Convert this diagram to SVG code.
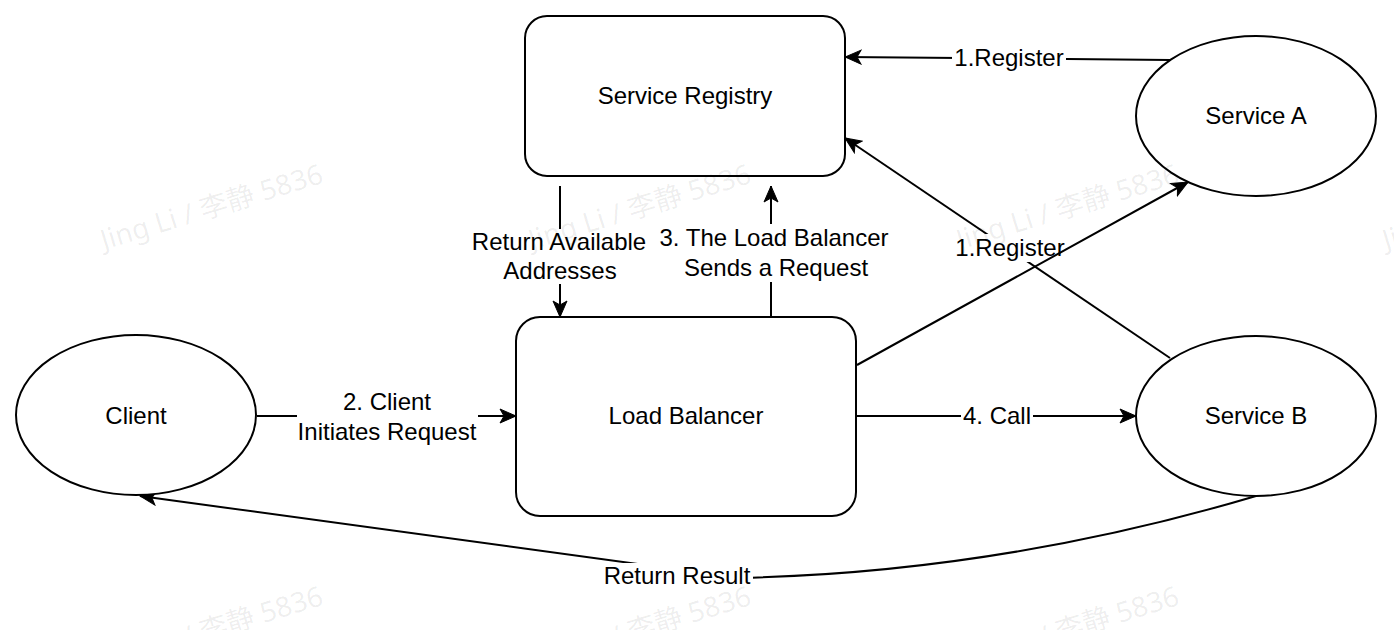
<svg xmlns="http://www.w3.org/2000/svg" width="1394" height="630" viewBox="0 0 1394 630">
<style>
.node{fill:#fff;stroke:#000;stroke-width:2}
.edge{fill:none;stroke:#000;stroke-width:2}
.t{font-family:"Liberation Sans",Arial,sans-serif;font-size:24px;fill:#000;text-anchor:middle}
.bg{fill:#fff}
.wm{font-family:"Noto Sans","Noto Sans CJK SC",sans-serif;font-size:28px;fill:#000;fill-opacity:0.07}
</style>
<defs>
<marker id="arr" markerUnits="userSpaceOnUse" markerWidth="18" markerHeight="16" viewBox="0 0 18 16" refX="17" refY="8" orient="auto">
<path d="M1,1 L17,8 L1,15 L5,8 z" fill="#000" stroke="#000" stroke-width="1"/>
</marker>
</defs>
<rect width="1394" height="630" fill="#fff"/>
<g id="connectors">
<g id="e-a-reg"><path class="edge" d="M1170,60 L845,57" marker-end="url(#arr)"/><rect class="bg" x="952" y="44" width="114" height="28"/><text class="t" x="1009" y="66">1.Register</text></g>
<g id="e-b-reg"><path class="edge" d="M1170,358 L845,138" marker-end="url(#arr)"/><rect class="bg" x="953" y="234" width="114" height="28"/><text class="t" x="1010" y="256">1.Register</text></g>
<g id="e-lb-a"><path class="edge" d="M857,365 L1188,182" marker-end="url(#arr)"/></g>
<g id="e-lb-b"><path class="edge" d="M857,416 L1136,416" marker-end="url(#arr)"/><rect class="bg" x="961" y="402" width="72" height="28"/><text class="t" x="997" y="424">4. Call</text></g>
<g id="e-client-lb"><path class="edge" d="M257,416 L516,416" marker-end="url(#arr)"/><rect class="bg" x="297" y="388" width="181" height="58"/><text class="t" x="387" y="410">2. Client</text><text class="t" x="387" y="440">Initiates Request</text></g>
<g id="e-reg-lb"><path class="edge" d="M560,186 L560,317" marker-end="url(#arr)"/><rect class="bg" x="468" y="229" width="180" height="55"/><text class="t" x="559" y="250">Return Available</text><text class="t" x="560" y="279">Addresses</text></g>
<g id="e-lb-reg"><path class="edge" d="M771,317 L771,186" marker-end="url(#arr)"/><rect class="bg" x="656" y="224" width="235" height="58"/><text class="t" x="774" y="246">3. The Load Balancer</text><text class="t" x="776" y="276">Sends a Request</text></g>
<g id="e-b-client"><path class="edge" d="M1256,496 Q1000,572 740,578 L140,496" marker-end="url(#arr)"/><rect class="bg" x="602" y="563" width="151" height="27"/><text class="t" x="677" y="584">Return Result</text></g>
</g>
<g id="registry"><rect class="node" x="525" y="16" width="320" height="160" rx="22"/><text class="t" x="685" y="104">Service Registry</text></g>
<g id="lb"><rect class="node" x="516" y="317" width="340" height="199" rx="24"/><text class="t" x="686" y="424">Load Balancer</text></g>
<g id="client"><ellipse class="node" cx="136" cy="415" rx="120" ry="80"/><text class="t" x="136" y="424">Client</text></g>
<g id="service-a"><ellipse class="node" cx="1256" cy="116" rx="120" ry="80"/><text class="t" x="1256" y="124">Service A</text></g>
<g id="service-b"><ellipse class="node" cx="1256" cy="416" rx="120" ry="80"/><text class="t" x="1256" y="424">Service B</text></g>
<g id="watermark">
<text class="wm" transform="translate(104,250) rotate(-17)">Jing Li / 李静 5836</text>
<text class="wm" transform="translate(532,250) rotate(-17)">Jing Li / 李静 5836</text>
<text class="wm" transform="translate(960,250) rotate(-17)">Jing Li / 李静 5836</text>
<text class="wm" transform="translate(1386,250) rotate(-17)">Jing Li / 李静 5836</text>
<text class="wm" transform="translate(104,672) rotate(-17)">Jing Li / 李静 5836</text>
<text class="wm" transform="translate(532,672) rotate(-17)">Jing Li / 李静 5836</text>
<text class="wm" transform="translate(960,672) rotate(-17)">Jing Li / 李静 5836</text>
</g>
</svg>
